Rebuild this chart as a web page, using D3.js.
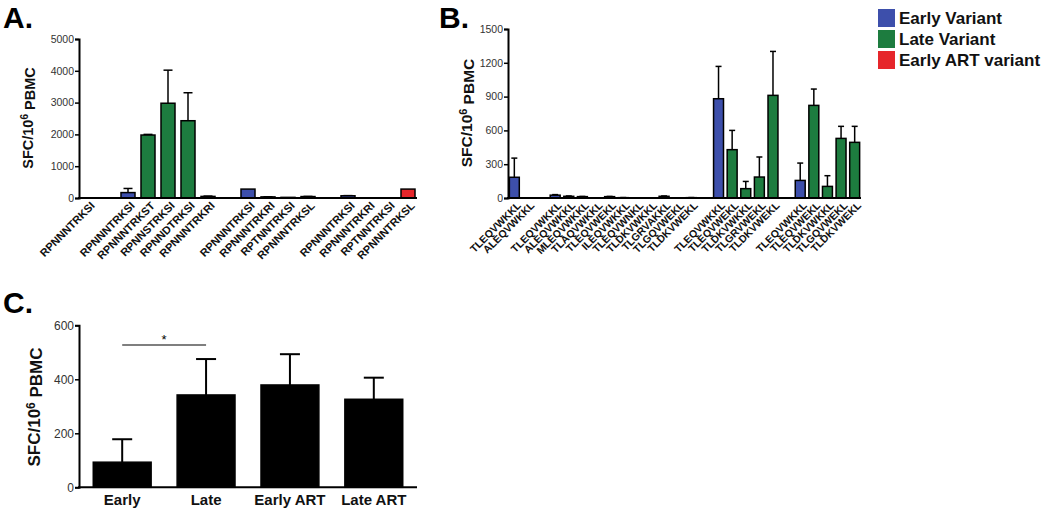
<!DOCTYPE html>
<html><head><meta charset="utf-8">
<script src="https://cdn.jsdelivr.net/npm/d3@7"></script>
<style>
body{margin:0;background:#fff;}
svg{display:block;font-family:"Liberation Sans",Arial,Helvetica,sans-serif;}
</style></head><body>
<svg id="c" width="1050" height="512"></svg>
<script>
// ---- Panel A data ----
const aLabels = ["RPNNNTRKSI","","RPNNNTRKSI","RPNNNTRKST","RPNNSTRKSI","RPNNDTRKSI","RPNNNTRKRI","","RPNNNTRKSI","RPNNNTRKRI","RPTNNTRKSI","RPNNNTRKSL","","RPNNNTRKSI","RPNNNTRKRI","RPTNNTRKSI","RPNNNTRKSL"];
const aValues = [0,null,170,1980,2980,2430,50,null,280,35,20,45,null,70,0,0,280];
const aErrors = [0,null,300,2000,4020,3310,60,null,0,40,20,50,null,75,0,0,0];
const aGroups = ["late",null,"early","late","late","late","late",null,"early","late","late","late",null,"early","late","late","art"];
const aTicks = [0,1000,2000,3000,4000,5000];

// ---- Panel B data ----
const bLabels = ["TLEQVWKKL","ALEQVWKKL","","TLEQVWKKL","ALEQVWKKL","MLEQVWKKL","TLAQVWKKL","TLEQVWEKL","ILEQVWKKL","TLEQVWNKL","TLDKVWKKL","TLGRVAKKL","TLGQVWEKL","TLDKVWEKL","","TLEQVWKKL","TLEQVWEKL","TLDKVWKKL","TLGRVWEKL","TLDKVWEKL","","TLEQVWKKL","TLEQVWEKL","TLDKVWKKL","TLGQVWEKL","TLDKVWEKL"];
const bValues = [184,0,null,25,15,12,0,12,3,0,0,15,0,3,null,881,429,83,186,911,null,156,822,103,529,494];
const bErrors = [354,0,null,30,18,14,0,14,4,0,0,18,0,4,null,1168,600,147,364,1301,null,310,967,198,636,636];
const bGroups = ["early","early",null,"early","late","late","late","late","late","late","late","late","late","late",null,"early","late","late","late","late",null,"early","late","late","late","late"];
const bTicks = [0,300,600,900,1200,1500];

// ---- Panel C data ----
const cLabels = ["Early","Late","Early ART","Late ART"];
const cValues = [93,342,379,326];
const cErrors = [178,475,493,406];
const cTicks = [0,200,400,600];
const cSigValue = 527;

// ---- Legend ----
const legendKeys = ["early","late","art"];
const legendLabels = ["Early Variant","Late Variant","Early ART variant"];
const colors = {early:"#3d4fab", late:"#1d7c3f", art:"#e6262b"};

const svg = d3.select("#c");

function panel(opt){
  const g = svg.append("g");
  const y = d3.scaleLinear().domain(opt.domain).range([opt.y0, opt.y1]);
  const x = d3.scaleBand().domain(d3.range(opt.values.length)).range([opt.x0, opt.x1])
    .paddingInner(opt.pi).paddingOuter(opt.po);
  // y axis
  const ax = g.append("g").attr("transform",`translate(${opt.x0},0)`)
    .call(d3.axisLeft(y).tickValues(opt.ticks).tickFormat(d3.format("d")).tickSizeOuter(0).tickSize(opt.tickSize).tickPadding(1));
  ax.select(".domain").attr("stroke","#000").attr("stroke-width",2);
  ax.selectAll(".tick line").attr("stroke","#000").attr("stroke-width",1.5);
  ax.selectAll(".tick text").attr("fill","#333").style("font-size",opt.tickFont+"px").attr("font-family","Liberation Sans, Arial, sans-serif");
  // error bars
  const idx = d3.range(opt.values.length).filter(i=>opt.values[i]!==null && opt.values[i]>0);
  g.selectAll(".err").data(idx.filter(i=>opt.errors[i]>opt.values[i])).enter().append("g").each(function(i){
    const cx = x(i)+x.bandwidth()/2;
    const e = d3.select(this);
    e.append("line").attr("x1",cx).attr("x2",cx).attr("y1",y(opt.values[i])).attr("y2",y(opt.errors[i]))
      .attr("stroke","#000").attr("stroke-width",opt.errW);
    e.append("line").attr("x1",cx-opt.cap/2).attr("x2",cx+opt.cap/2).attr("y1",y(opt.errors[i])).attr("y2",y(opt.errors[i]))
      .attr("stroke","#000").attr("stroke-width",opt.errW);
  });
  // bars
  g.selectAll(".bar").data(idx).enter().append("rect")
    .attr("x",i=>x(i)).attr("width",x.bandwidth())
    .attr("y",i=>y(opt.values[i])).attr("height",i=>y(0)-y(opt.values[i]))
    .attr("fill",i=>opt.fill(i)).attr("stroke","#000").attr("stroke-width",opt.barStroke);
  // x axis line
  g.append("line").attr("x1",opt.x0-1).attr("x2",opt.x1).attr("y1",y(0)).attr("y2",y(0))
    .attr("stroke","#000").attr("stroke-width",2);
  // x labels
  if(opt.rotate){
    g.selectAll(".xl").data(d3.range(opt.labels.length).filter(i=>opt.labels[i])).enter().append("text")
      .attr("transform",i=>`translate(${x(i)+x.bandwidth()/2+opt.lx},${y(0)+opt.ly}) rotate(-45)`)
      .attr("text-anchor","end").attr("dy","0.7em")
      .style("font-size",opt.labFont+"px").style("font-weight","bold").attr("fill","#111")
      .text(i=>opt.labels[i]);
  } else {
    g.selectAll(".xl").data(d3.range(opt.labels.length)).enter().append("text")
      .attr("x",i=>x(i)+x.bandwidth()/2).attr("y",y(0)+opt.ly)
      .attr("text-anchor","middle")
      .style("font-size",opt.labFont+"px").style("font-weight","bold").attr("fill","#111")
      .text(i=>opt.labels[i]);
  }
  // y title
  const t = g.append("text").attr("transform",`translate(${opt.tx},${opt.ty}) rotate(-90)`)
    .attr("text-anchor","middle").style("font-size",opt.titleFont+"px").style("font-weight","bold").attr("fill","#111");
  t.append("tspan").text("SFC/10");
  t.append("tspan").text("6").attr("dy","-0.45em").style("font-size",(opt.titleFont*0.7)+"px");
  t.append("tspan").text(" PBMC").attr("dy","0.45em");
  // panel letter
  svg.append("text").attr("x",opt.px).attr("y",opt.py).style("font-size","30px").style("font-weight","bold").text(opt.letter);
  return {x,y,g};
}

panel({letter:"A.",px:3,py:28,values:aValues,errors:aErrors,labels:aLabels,fill:i=>colors[aGroups[i]],
  domain:[0,5000],y0:198,y1:39,x0:79,x1:417,pi:0.3,po:0.1,ticks:aTicks,tickSize:4,tickFont:10.5,
  cap:9,errW:1.5,barStroke:1.5,rotate:true,lx:2,ly:3,labFont:11,tx:33,ty:118,titleFont:14.5});

panel({letter:"B.",px:439,py:27.5,values:bValues,errors:bErrors,labels:bLabels,fill:i=>colors[bGroups[i]],
  domain:[0,1500],y0:198,y1:29,x0:508,x1:861,pi:0.27,po:0.1,ticks:bTicks,tickSize:4,tickFont:10.5,
  cap:6,errW:1.5,barStroke:1.5,rotate:true,lx:2,ly:3,labFont:10.5,tx:472,ty:113,titleFont:15.5});

const pc = panel({letter:"C.",px:3,py:313,values:cValues,errors:cErrors,labels:cLabels,fill:i=>"#000",
  domain:[0,600],y0:487.3,y1:325.3,x0:79,x1:417,pi:0.31,po:0.17,ticks:cTicks,tickSize:4,tickFont:12,
  cap:20,errW:2,barStroke:1.5,rotate:false,ly:18,labFont:15,tx:40,ty:407,titleFont:17});

// significance bar
const sx1 = pc.x(0)+pc.x.bandwidth()/2, sx2 = pc.x(1)+pc.x.bandwidth()/2;
pc.g.append("line").attr("x1",sx1).attr("x2",sx2).attr("y1",pc.y(cSigValue)).attr("y2",pc.y(cSigValue))
  .attr("stroke","#000").attr("stroke-width",1.2);
pc.g.append("text").attr("x",(sx1+sx2)/2).attr("y",pc.y(cSigValue)-1).attr("text-anchor","middle")
  .style("font-size","13px").text("*");

// legend
const lg = svg.append("g").attr("transform","translate(878,9)");
legendKeys.forEach((k,i)=>{
  lg.append("rect").attr("x",0).attr("y",i*21).attr("width",17).attr("height",18).attr("fill",colors[k]);
  lg.append("text").attr("x",21).attr("y",i*21+15).style("font-size","17px").style("font-weight","bold")
    .attr("fill","#111").text(legendLabels[i]);
});
</script>
</body></html>
